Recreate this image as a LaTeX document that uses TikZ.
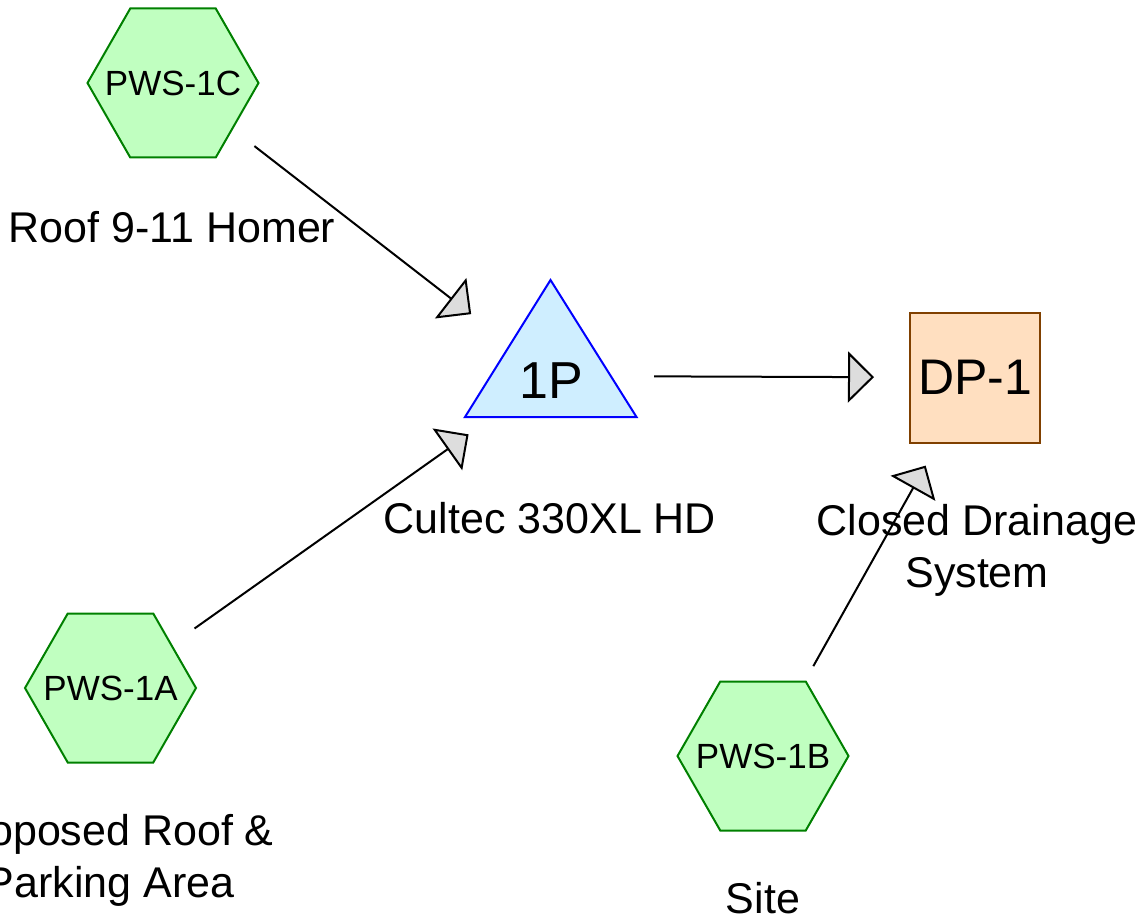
\documentclass[tikz,border=0pt]{standalone}
\usepackage{fontspec}
\setmainfont{Liberation Sans}
\usetikzlibrary{arrows.meta}
\definecolor{hexfill}{HTML}{C0FFC0}
\definecolor{hexdraw}{HTML}{008000}
\definecolor{trifill}{HTML}{CFEEFF}
\definecolor{tridraw}{HTML}{0000FF}
\definecolor{dpfill}{HTML}{FFDFC0}
\definecolor{dpdraw}{HTML}{804000}
\definecolor{arrowgray}{HTML}{DDDDDD}
\newcommand\myhexat[1]{\draw[hexline] (#1) ++(-85.5,0) -- ++(42.75,-74.5) -- ++(85.5,0)
  -- ++(42.75,74.5) -- ++(-42.75,74.5) -- ++(-85.5,0) -- cycle;}
\begin{document}
\begin{tikzpicture}[x=1pt,y=-1pt,
  hexline/.style={draw=hexdraw, fill=hexfill, line width=2pt, line join=miter},
  hexnode/.style={inner sep=0pt, font=\fontsize{35}{42}\selectfont},
  dpnode/.style={rectangle, minimum size=130pt, inner sep=0pt, draw=dpdraw,
    fill=dpfill, line width=2pt, font=\fontsize{50}{60}\selectfont},
  pondtext/.style={font=\fontsize{52}{60}\selectfont, inner sep=0pt,
    text height=45pt, text depth=0pt},
  lbl/.style={font=\fontsize{43}{52}\selectfont, align=center, anchor=base, inner sep=0pt},
  flow/.style={line width=2pt, -{Triangle[length=26pt,width=51pt,fill=arrowgray]},
    shorten <=103pt, shorten >=101pt}]
\path[use as bounding box, clip] (0,0) rectangle (1143,920);
% source hexagons
\myhexat{173,83}
\node[hexnode] (c) at (173,83) {PWS-1C};
\myhexat{110.5,688}
\node[hexnode] (a) at (110.5,688) {PWS-1A};
\myhexat{763,756}
\node[hexnode] (b) at (763,756) {PWS-1B};
% pond triangle
\draw[line width=2pt, draw=tridraw, fill=trifill] (550.5,280) -- (636.5,417) -- (465,417) -- cycle;
\node[pondtext] (p) at (551,376) {1P};
% design point
\node[dpnode] (d) at (975,377.5) {DP-1};
% labels
\node[lbl] (lc) at (172,243) {Roof 9-11 Homer};
\node[lbl] (la) at (110,897) {Proposed Roof \&\\Parking Area};
\node[lbl] (lb) at (763,913) {Site};
\node[lbl] (lp) at (550,533) {Cultec 330XL HD};
\node[lbl] (ld) at (977,587) {Closed Drainage\\System};
% connectors
\draw[flow] (c.center) -- (p.center);
\draw[flow] (a.center) -- (p.center);
\draw[flow] (p.center) -- (d.center);
\draw[flow] (b.center) -- (d.center);
\end{tikzpicture}
\end{document}
